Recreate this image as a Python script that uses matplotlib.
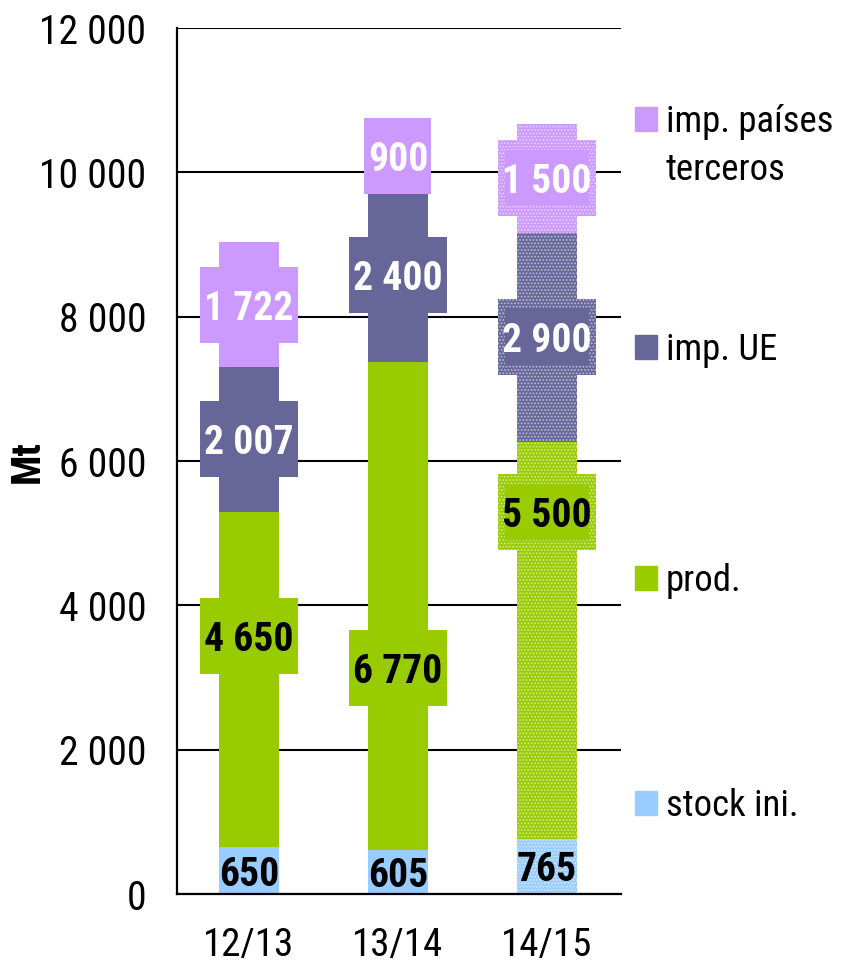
import matplotlib
matplotlib.use('Agg')
import matplotlib.pyplot as plt
from matplotlib.patches import Rectangle
from matplotlib.colors import to_rgb

plt.rcParams['font.family'] = ['Roboto Condensed', 'DejaVu Sans']
plt.rcParams['hatch.linewidth'] = 0.9

# dados (Mt)
campanhas = ['12/13', '13/14', '14/15']
stock_ini = [650, 605, 765]
prod = [4650, 6770, 5500]
imp_ue = [2007, 2400, 2900]
imp_terceiros = [1722, 900, 1500]

nomes = ['stock ini.', 'prod.', 'imp. UE', 'imp. países\nterceros']
cores = ['#99CCFF', '#99CC00', '#666699', '#CC99FF']
cor_texto = ['black', 'black', 'white', 'white']
yticks = [0, 2000, 4000, 6000, 8000, 10000, 12000]

# posição do rótulo de "prod." dentro do segmento (fracção da altura)
prod_label_frac = [0.629, 0.374, 0.824]


def fmt(v):
    return f'{v:,}'.replace(',', ' ')


def clarear(c, f=0.55):
    r, g, b = to_rgb(c)
    return (r + (1 - r) * f, g + (1 - g) * f, b + (1 - b) * f)


fig = plt.figure(figsize=(8.42, 9.71), dpi=100)
ax = fig.add_axes([177 / 842, 1 - 894 / 971, 444 / 842, 866 / 971])

x = list(range(len(campanhas)))
series = [stock_ini, prod, imp_ue, imp_terceiros]
bar_w = 0.40
box_h = 1053          # altura das caixas dos rótulos em Mt
px_x = 1 / 149        # 1 px em unidades de x
px_y = 12000 / 866    # 1 px em unidades de y

base = [0, 0, 0]
for k, (vals, cor) in enumerate(zip(series, cores)):
    for i in x:
        hatched = (i == 2)
        kw = dict(color=cor, linewidth=0, zorder=2)
        if hatched:
            kw.update(hatch='.....', edgecolor=clarear(cor))
        ax.bar(i, vals[i], bottom=base[i], width=bar_w, **kw)

        # posição do rótulo
        if k == 1:
            yl = base[i] + vals[i] * prod_label_frac[i]
        else:
            yl = base[i] + vals[i] / 2
        txt = fmt(vals[i])

        if k > 0:
            bw = 0.66 if len(txt) > 3 else 0.45
            ax.bar(i, box_h, bottom=yl - box_h / 2, width=bw, **dict(kw, zorder=3))
            if hatched:
                ax.bar(i, box_h - 20 * px_y, bottom=yl - box_h / 2 + 10 * px_y,
                       width=bw - 14 * px_x, color=cor, linewidth=0, zorder=3.5)
        ax.text(i, yl, txt, ha='center', va='center_baseline', fontsize=28.5,
                fontweight='bold', color=cor_texto[k], zorder=4)
    base = [b + v for b, v in zip(base, vals)]

ax.set_xlim(-0.483, 2.497)
ax.set_ylim(0, 12000)
ax.set_yticks(yticks)
ax.set_yticklabels([fmt(v) for v in yticks])
ax.set_xticks(x)
ax.set_xticklabels(campanhas)
ax.tick_params(axis='y', length=0, pad=22, labelsize=28.5)
ax.tick_params(axis='x', length=0, pad=24, labelsize=28)

ax.set_axisbelow(True)
ax.grid(axis='y', color='black', linewidth=1.5)
for s in ['top', 'right']:
    ax.spines[s].set_visible(False)
for s in ['left', 'bottom']:
    ax.spines[s].set_linewidth(1.6)
    ax.spines[s].set_color('black')

fig.text(28 / 842, 1 - 462 / 971, 'Mt', rotation=90, ha='center', va='center',
         fontsize=29, fontweight='bold')

# legenda manual, à direita
leg_y = [803, 578, 347, 119.5]
for nome, cor, yy in zip(nomes, cores, leg_y):
    fig.patches.append(Rectangle((635 / 842, 1 - (yy + 12) / 971), 22 / 842, 24 / 971,
                                 transform=fig.transFigure, color=cor, figure=fig))
    for j, linha in enumerate(nome.split('\n')):
        fig.text(666 / 842, 1 - (yy + 13 + j * 47) / 971, linha, ha='left',
                 va='baseline', fontsize=26.5)

fig.savefig('out.png', dpi=100)
